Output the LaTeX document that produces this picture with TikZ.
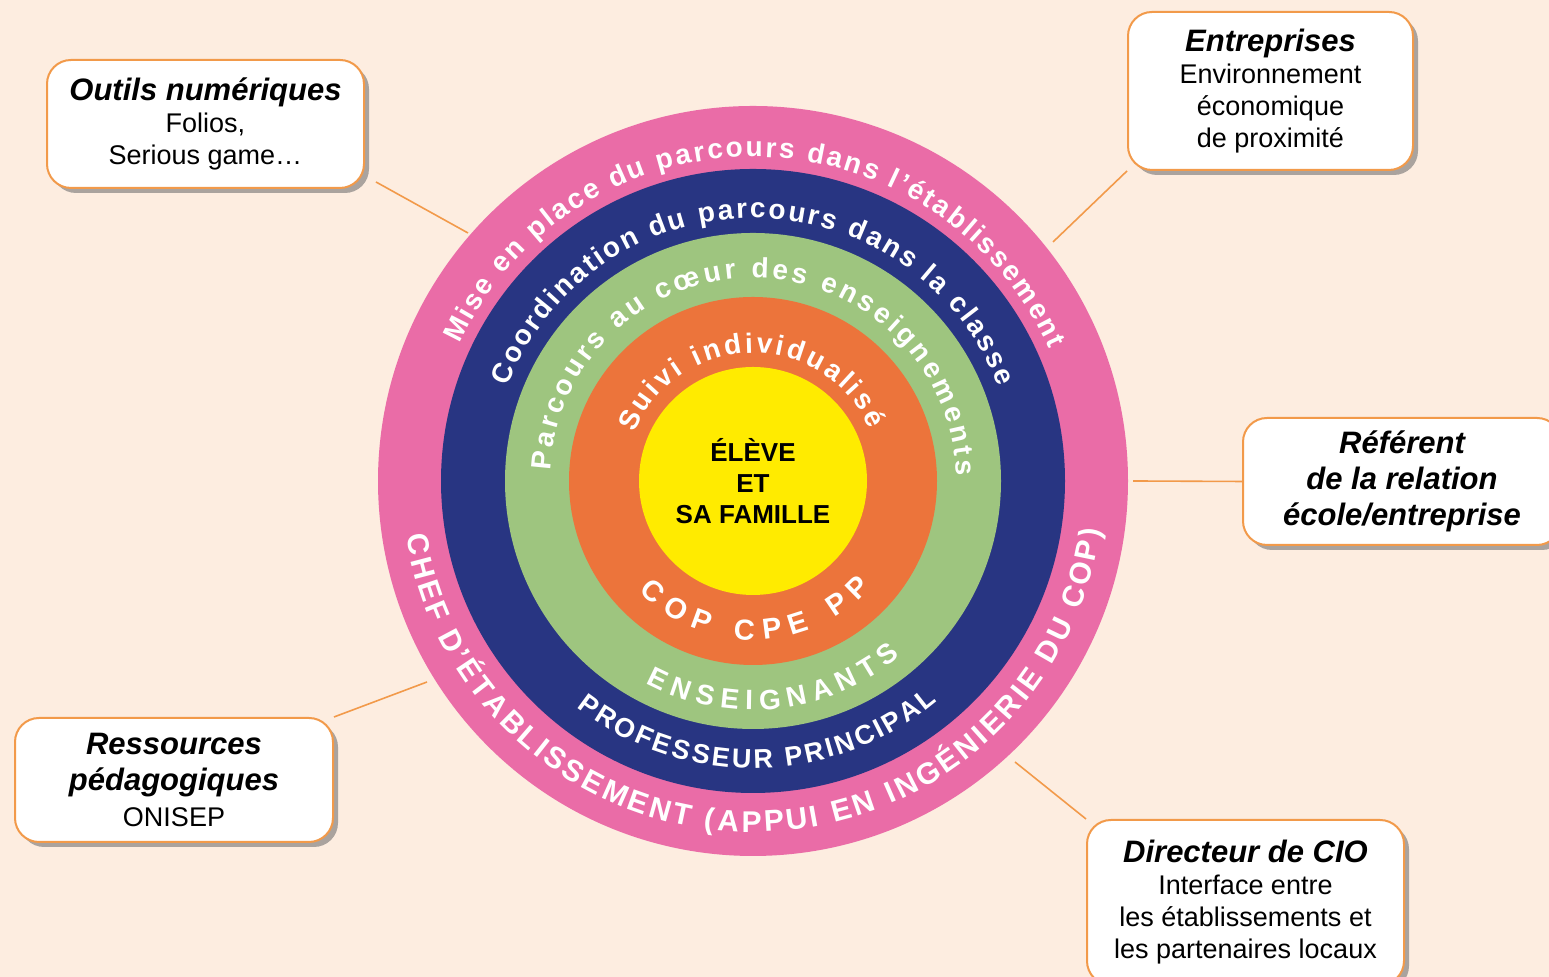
\documentclass[tikz,border=0pt]{standalone}
\usepackage{fontspec}
\setmainfont{Liberation Sans}
\usetikzlibrary{decorations.text,shadows,calc}
\definecolor{bgpeach}{HTML}{FDEDE0}
\definecolor{ringpink}{HTML}{EA6CA7}
\definecolor{ringnavy}{HTML}{283582}
\definecolor{ringgreen}{HTML}{9EC57F}
\definecolor{ringorange}{HTML}{EC743B}
\definecolor{coreyellow}{HTML}{FFEB00}
\definecolor{lineorange}{HTML}{F29A4A}
\tikzset{
  infobox/.style={draw=lineorange, line width=1pt, fill=white, rounded corners=12pt,
    align=center, inner sep=0pt,
    drop shadow={shadow xshift=2.5pt, shadow yshift=-2.5pt, fill=black!55, opacity=0.6}},
  conn/.style={draw=lineorange, line width=0.8pt},
  ringlabel/.style={decorate, decoration={text along path, text color=white,
    text align={fit to path}, text={#1}}}
}
\newcommand{\ttl}[1]{{\fontsize{15.5}{16}\selectfont\bfseries\itshape #1}}
\begin{document}
\begin{tikzpicture}[x=0.5pt,y=0.5pt]
\useasboundingbox (0,0) rectangle (1549,977);
\fill[bgpeach] (0,0) rectangle (1549,977);
\coordinate (C) at (753,496);

% rings
\fill[ringpink] (C) circle[radius=375];
\fill[ringnavy] (C) circle[radius=312];
\fill[ringgreen] (C) circle[radius=248];
\fill[ringorange] (C) circle[radius=184];
\fill[coreyellow] (C) circle[radius=114];

% curved texts, top
\path[ringlabel={|\fontsize{14}{14}\selectfont\bfseries|Mise en place du parcours dans l’établissement}]
  ($(C)+(155:324)$) arc[start angle=155, end angle=24, radius=324];
\path[ringlabel={|\fontsize{14}{14}\selectfont\bfseries|Coordination du parcours dans la classe}]
  ($(C)+(159:263)$) arc[start angle=159, end angle=21, radius=263];
\path[ringlabel={|\fontsize{14}{14}\selectfont\bfseries|Parcours au cœur des enseignements}]
  ($(C)+(177:203)$) arc[start angle=177, end angle=1.5, radius=203];
\path[ringlabel={|\fontsize{14}{14}\selectfont\bfseries|Suivi individualisé}]
  ($(C)+(158:128)$) arc[start angle=158, end angle=24, radius=128];
% curved texts, bottom
\path[ringlabel={|\fontsize{15}{15}\selectfont\bfseries|CHEF D’ÉTABLISSEMENT (APPUI EN INGÉNIERIE DU COP)}]
  ($(C)+(189:351)$) arc[start angle=189, end angle=352, radius=351];
\path[ringlabel={|\fontsize{13.5}{13.5}\selectfont\bfseries|PROFESSEUR PRINCIPAL}]
  ($(C)+(232:287)$) arc[start angle=232, end angle=310, radius=287];
\path[ringlabel={|\fontsize{14}{14}\selectfont\bfseries|ENSEIGNANTS}]
  ($(C)+(242:229)$) arc[start angle=242, end angle=310, radius=229];
\path[ringlabel={|\fontsize{14.5}{14.5}\selectfont\bfseries|COP CPE PP}]
  ($(C)+(224:159)$) arc[start angle=224, end angle=318, radius=159];

% centre
\node[align=center, font=\fontsize{13}{15.5}\selectfont\bfseries] (core) at (753,496) {ÉLÈVE\\ET\\SA FAMILLE};

% boxes
\node[infobox, minimum width=158.5pt, minimum height=64pt, font=\fontsize{13.5}{16}\selectfont]
  (outils) at (205.5,853) {\ttl{Outils numériques}\\Folios,\\Serious game…};
\node[infobox, minimum width=142.5pt, minimum height=79pt, font=\fontsize{13.5}{16}\selectfont]
  (entr) at (1270.5,886) {\ttl{Entreprises}\\Environnement\\économique\\de proximité};
\node[infobox, minimum width=159pt, minimum height=63.5pt, font=\fontsize{15.5}{18}\selectfont\bfseries\itshape]
  (ref) at (1402,495.5) {Référent\\de la relation\\école/entreprise};
\node[infobox, minimum width=159pt, minimum height=62pt, font=\fontsize{13.5}{18}\selectfont]
  (ress) at (174,197) {\ttl{Ressources}\\\ttl{pédagogiques}\\ONISEP};
\node[infobox, minimum width=158.5pt, minimum height=82.5pt, font=\fontsize{13.5}{16}\selectfont]
  (dir) at (1245.5,74.5) {\ttl{Directeur de CIO}\\Interface entre\\les établissements et\\les partenaires locaux};

% connector ends on the outer ring
\coordinate (eoutils) at (468,744);
\coordinate (eentr) at (1053,735);
\coordinate (eref) at (1133,496);
\coordinate (eress) at (427,295);
\coordinate (edir) at (1015,215);

\draw[conn] ([shift={(11,7)}]outils.south east) -- (eoutils);
\draw[conn] (entr.south west) -- (eentr);
\draw[conn] (ref.west) -- (eref);
\draw[conn] (ress.north east) -- (eress);
\draw[conn] (dir.north west) -- (edir);
\end{tikzpicture}
\end{document}
